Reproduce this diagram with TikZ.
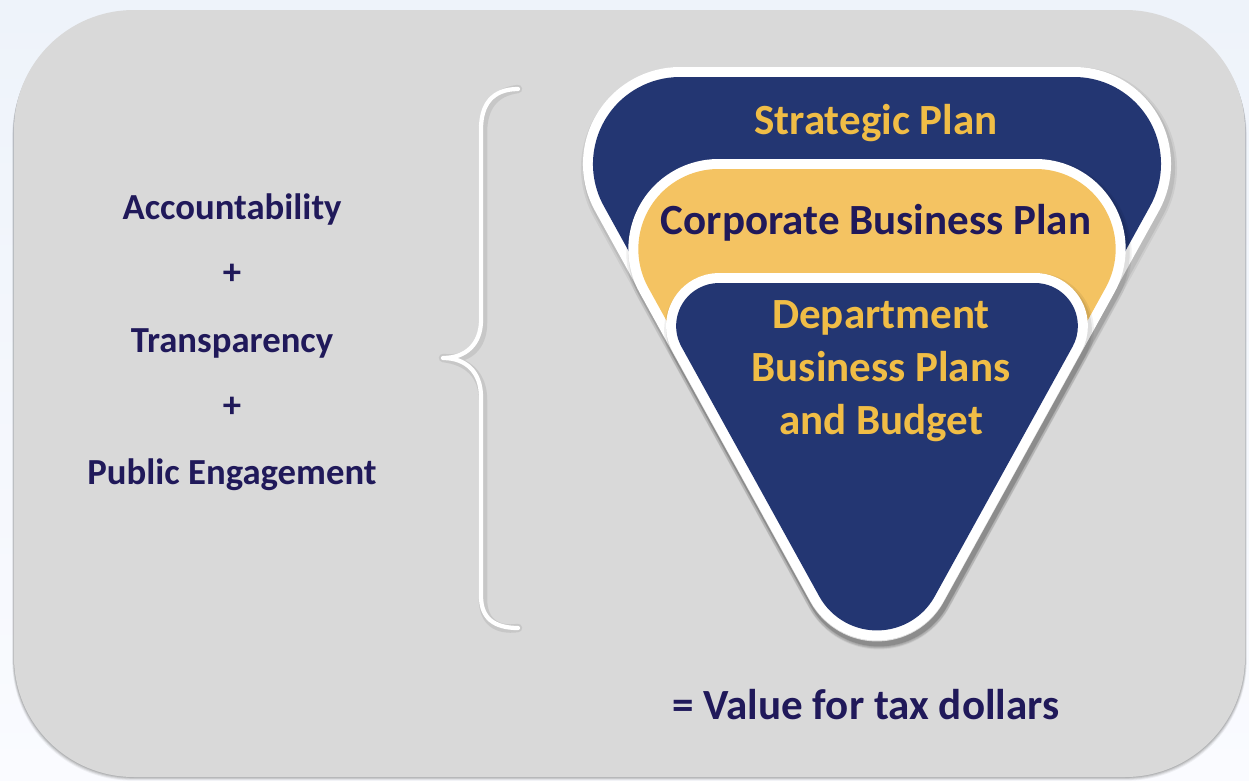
\documentclass[tikz,border=0pt]{standalone}
\usepackage{fontspec}
\setmainfont{Carlito}
\usetikzlibrary{calc}
\definecolor{bgout}{RGB}{238,243,250}
\definecolor{bgout2}{RGB}{250,251,255}
\definecolor{boxgray}{RGB}{217,217,217}
\definecolor{navy}{RGB}{35,54,114}
\definecolor{goldfill}{RGB}{244,195,98}
\definecolor{goldtext}{RGB}{240,189,70}
\definecolor{indigo}{RGB}{32,25,90}
\newcommand\rtriset[6]{%
 \pgfmathsetmacro\rtAl{atan(#4)}%
 \pgfmathsetmacro\rtHw{#4*(#3-#2)}%
 \pgfmathsetmacro\rtTd{#5/tan((90-\rtAl)/2)}%
 \pgfmathsetmacro\rtRx{#1+\rtHw-\rtTd}%
 \pgfmathsetmacro\rtLx{#1-\rtHw+\rtTd}%
 \pgfmathsetmacro\rtBy{#3-#6/sin(\rtAl)}%
 \pgfmathsetmacro\rtBrx{#1+#6*cos(\rtAl)}%
 \pgfmathsetmacro\rtBry{\rtBy+#6*sin(\rtAl)}%
 \pgfmathsetmacro\rtLtx{\rtLx-#5*cos(\rtAl)}%
 \pgfmathsetmacro\rtLty{#2+#5+#5*sin(\rtAl)}%
 \pgfmathsetmacro\rtAlb{180-\rtAl}%
 \def\rtT{#2}\def\rtrt{#5}\def\rtrb{#6}%
}
\tikzset{
 rtri/.style={insert path={(\rtLx,\rtT) -- (\rtRx,\rtT) arc[start angle=-90,end angle=\rtAl,radius=\rtrt] -- (\rtBrx,\rtBry) arc[start angle=\rtAl,end angle=\rtAlb,radius=\rtrb] -- (\rtLtx,\rtLty) arc[start angle=\rtAlb,end angle=270,radius=\rtrt] -- cycle}},
 lefttext/.style={text=indigo,font=\bfseries\fontsize{20.9}{25}\selectfont,inner sep=0pt},
 funneltext/.style={font=\bfseries\fontsize{24.5}{30}\selectfont,inner sep=0pt,align=center},
 whiteline/.style={draw=white,line width=0.4cm,line join=round},
 shadowline/.style={draw=black,line join=round},
}
\begin{document}
\begin{tikzpicture}[x=0.02cm,y=-0.02cm]
\useasboundingbox (0,0) rectangle (1249,781);
\shade[top color=bgout,bottom color=bgout2] (0,0) rectangle (1249,781);
% box shadow
\foreach \s/\o in {6/0.05,4.5/0.07,3/0.09,1.5/0.1}{
 \fill[black,opacity=\o,rounded corners=2.4cm] (14-\s*0.3,10+\s) rectangle (1245+\s*0.3,777+\s*0.6);
}
\fill[boxgray,rounded corners=2.4cm] (14,10) rectangle (1245,777);
% brace
\coordinate (bt) at (518,89);
\coordinate (bb) at (518,628);
\coordinate (bm) at (443,358);
\draw[black,opacity=.08,line width=0.17cm,line cap=round,line join=round,shift={(2,3)}] (bt) .. controls (492,89) and (481,105) .. (481,129) -- (481,320) .. controls (481,344) and (466,358) .. (bm) .. controls (466,358) and (481,372) .. (481,397) -- (481,596) .. controls (481,618) and (494,628) .. (bb);
\draw[white,line width=0.085cm,line cap=round,line join=round] (bt) .. controls (492,89) and (481,105) .. (481,129) -- (481,320) .. controls (481,344) and (466,358) .. (bm) .. controls (466,358) and (481,372) .. (481,397) -- (481,596) .. controls (481,618) and (494,628) .. (bb);
% outer funnel
\rtriset{877}{77}{701}{0.552}{87}{66}
\begin{scope}[shift={(2,4)}]
\path[shadowline,opacity=.06,line width=0.56cm] [rtri];
\path[shadowline,opacity=.08,line width=0.48cm] [rtri];
\end{scope}
\path[fill=white,whiteline] [rtri];
\fill[navy] [rtri];
% gold
\rtriset{877}{169}{702}{0.552}{80}{66}
\begin{scope}[shift={(2,4)}]
\path[shadowline,opacity=.06,line width=0.56cm] [rtri];
\path[shadowline,opacity=.08,line width=0.48cm] [rtri];
\end{scope}
\path[fill=white,whiteline] [rtri];
\fill[goldfill] [rtri];
% inner
\rtriset{877}{283}{701}{0.552}{43}{66}
\begin{scope}[shift={(2,4)}]
\path[shadowline,opacity=.06,line width=0.56cm] [rtri];
\path[shadowline,opacity=.08,line width=0.48cm] [rtri];
\end{scope}
\path[fill=white,whiteline] [rtri];
\fill[navy] [rtri];
% texts
\node[lefttext] (acc) at (232,210) {Accountability};
\node[lefttext] (p1) at (232,274) {+};
\node[lefttext] (tra) at (232,343) {Transparency};
\node[lefttext] (p2) at (232,407) {+};
\node[lefttext] (pub) at (232,475) {Public Engagement};
\node[funneltext,text=goldtext] (sp) at (876,123) {Strategic Plan};
\node[funneltext,text=indigo] (cbp) at (876,223) {Corporate Business Plan};
\node[funneltext,text=goldtext] (dbp) at (881,371) {Department\\Business Plans\\and Budget};
\node[funneltext,text=indigo] (val) at (866,705) {= Value for tax dollars};
\end{tikzpicture}
\end{document}
